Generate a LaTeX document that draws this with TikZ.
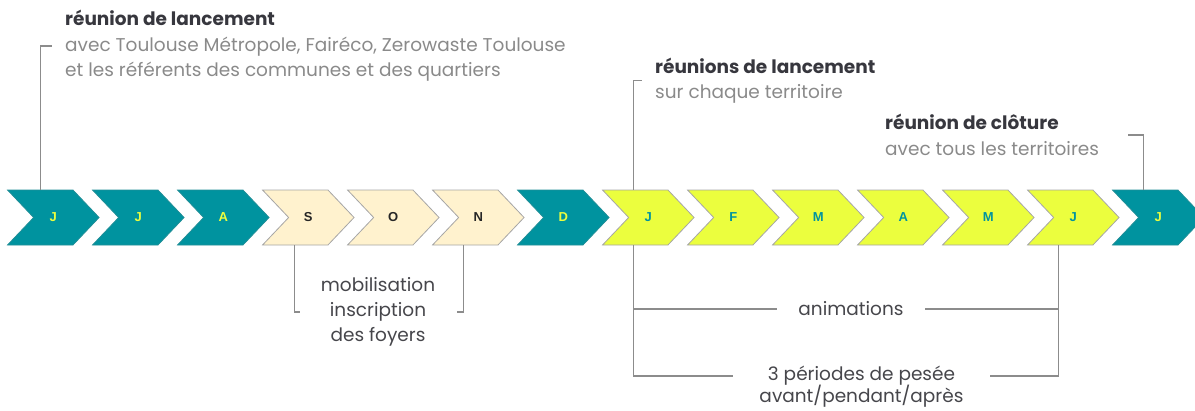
\documentclass[tikz,border=0pt]{standalone}
\usepackage{fontspec}
\setmainfont{Poppins}
\newfontfamily\lettre{Liberation Sans}
\usetikzlibrary{shapes.symbols,positioning}

\definecolor{sarcelle}{RGB}{0,147,159}
\definecolor{creme}{RGB}{255,242,206}
\definecolor{citron}{RGB}{235,254,62}
\definecolor{trait}{RGB}{140,140,140}
\definecolor{titre}{RGB}{55,55,62}
\definecolor{sous}{RGB}{138,138,138}
\definecolor{texte}{RGB}{70,70,75}

\tikzset{
  mois/.style={signal, signal to=east, signal from=west, signal pointer angle=93,
    minimum height=55pt, minimum width=91.5pt, inner sep=0pt, line width=0.8pt,
    font=\lettre\bfseries\fontsize{13}{13}\selectfont},
  fonce/.style={mois, fill=sarcelle, draw=sarcelle!75!gray, text=citron},
  clair/.style={mois, fill=creme, draw=gray!70, text=black!85},
  vif/.style={mois, fill=citron, draw=gray!70, text=sarcelle},
  lien/.style={draw=trait, line width=1.3pt},
  bloc/.style={align=left, inner sep=0pt, anchor=west, font=\fontsize{18.5}{25.5}\selectfont},
  note/.style={inner sep=0pt, text=texte, font=\fontsize{18.5}{25}\selectfont},
}

\begin{document}
\begin{tikzpicture}[x=1pt, y=-1pt]
  \useasboundingbox (0,0) rectangle (1195,410);

  % les mois
  \foreach \m/\s [count=\i] in {J/fonce, J/fonce, A/fonce, S/clair, O/clair, N/clair, D/fonce,
      J/vif, F/vif, M/vif, A/vif, M/vif, J/vif, J/fonce}
    \node [\s] (c\i) at ({53.3+85*(\i-1)}, 217.5) {\m};

  % au-dessus
  \node [bloc] (bloc1) at (65, 46) {\textcolor{titre}{\bfseries réunion de lancement}\\
    \textcolor{sous}{avec Toulouse Métropole, Fairéco, Zerowaste Toulouse}\\
    \textcolor{sous}{et les référents des communes et des quartiers}};
  \node [bloc] (bloc2) at (655, 80.5) {\textcolor{titre}{\bfseries réunions de lancement}\\
    \textcolor{sous}{sur chaque territoire}};
  \node [bloc] (bloc3) at (885, 135) {\textcolor{titre}{\bfseries réunion de clôture}\\
    \textcolor{sous}{avec tous les territoires}};

  \draw [lien] ([xshift=-13pt]c1.north) |- ([xshift=-13pt]bloc1.west);
  \draw [lien] ([xshift=-15pt]c8.north) |- ([xshift=-13pt]bloc2.west);
  \draw [lien] ([xshift=-15pt]c14.north) |- ([xshift=-30pt]c14.north |- bloc3.east);

  % en dessous
  \node [note, align=center] (mobil) at (378, 312) {mobilisation\\inscription\\des foyers};
  \draw [lien] ([xshift=-14pt]c4.south) |- ([xshift=-8pt]c4.south |- mobil.center);
  \draw [lien] ([xshift=-15pt]c6.south) |- ([xshift=-21pt]c6.south |- mobil.center);

  \node [note, minimum width=148pt] (anim) at (851, 309) {animations};
  \node [note, minimum width=257pt] (pesee) at (861.5, 376) {3 périodes de pesée};
  \node [note] (apres) at (861.5, 396.5) {avant/pendant/après};

  \draw [lien] ([xshift=-15pt]c8.south) |- (pesee.west);
  \draw [lien] ([xshift=-15pt]c13.south) |- (pesee.east);
  \draw [lien] (anim.west) -- ([xshift=-15pt]c8.south |- anim.west);
  \draw [lien] (anim.east) -- ([xshift=-15pt]c13.south |- anim.east);
\end{tikzpicture}
\end{document}
